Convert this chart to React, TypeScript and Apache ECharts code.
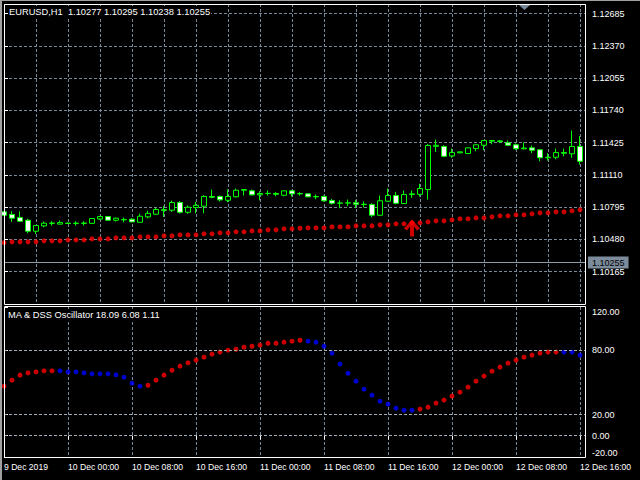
import React, { useEffect, useRef } from 'react';
import * as echarts from 'echarts';

// ---------- data ----------
const headerText = 'EURUSD,H1  1.10277 1.10295 1.10238 1.10255';
const oscTitle = 'MA & DSS Oscillator 18.09 6.08 1.11';

const timeLabels = [
  '9 Dec 2019', '10 Dec 00:00', '10 Dec 08:00', '10 Dec 16:00', '11 Dec 00:00',
  '11 Dec 08:00', '11 Dec 16:00', '12 Dec 00:00', '12 Dec 08:00', '12 Dec 16:00',
];
const timeLabelBars = [0, 8, 16, 24, 32, 40, 48, 56, 64, 72];

const priceTicks = [1.10165, 1.1048, 1.10795, 1.1111, 1.11425, 1.1174, 1.12055, 1.1237, 1.12685];
const oscTicks = [-20, 0, 20, 80, 120];
const oscLevels = [80, 20, 0];
const bidPrice = 1.10255;

const opens = [
  1.1075, 1.10724, 1.10694, 1.10668, 1.10561, 1.10613, 1.1064, 1.1063, 1.1064, 1.10636,
  1.1064, 1.10638, 1.1068, 1.10704, 1.10668, 1.10672, 1.10678, 1.10648, 1.10701, 1.10727,
  1.10771, 1.10766, 1.10841, 1.10746, 1.10792, 1.10805, 1.109, 1.109, 1.10863, 1.10897,
  1.10961, 1.10955, 1.10916, 1.10929, 1.10929, 1.10912, 1.10955, 1.10926, 1.10926, 1.10897,
  1.109, 1.1086, 1.10834, 1.10836, 1.10838, 1.10824, 1.10821, 1.10717, 1.10854, 1.10909,
  1.10831, 1.10919, 1.10921, 1.10968, 1.1139, 1.11388, 1.11296, 1.11327, 1.1132, 1.11368,
  1.11401, 1.1144, 1.11443, 1.11424, 1.11405, 1.11366, 1.11375, 1.11356, 1.11278, 1.11283,
  1.11329, 1.11317, 1.11388,
];
const closes = [
  1.10717, 1.10688, 1.10658, 1.10561, 1.10616, 1.10639, 1.10638, 1.10645, 1.10636, 1.1064,
  1.10638, 1.10685, 1.10704, 1.10668, 1.10688, 1.10676, 1.10652, 1.10707, 1.10735, 1.10773,
  1.10765, 1.10841, 1.10746, 1.10795, 1.10814, 1.109, 1.10893, 1.10867, 1.109, 1.10961,
  1.10968, 1.10916, 1.10929, 1.10931, 1.10922, 1.10955, 1.10926, 1.10929, 1.10897, 1.109,
  1.10858, 1.10834, 1.10836, 1.10838, 1.10824, 1.10821, 1.10717, 1.10858, 1.10909, 1.10834,
  1.10919, 1.10926, 1.10978, 1.11398, 1.114, 1.11293, 1.11329, 1.11336, 1.11375, 1.11405,
  1.11447, 1.11447, 1.11436, 1.11401, 1.11366, 1.11373, 1.11352, 1.11278, 1.11283, 1.11329,
  1.11323, 1.11388, 1.11244,
];
const lows = [
  1.10712, 1.10652, 1.10655, 1.10541, 1.10535, 1.106, 1.10616, 1.10628, 1.10632, 1.10616,
  1.10617, 1.10632, 1.10672, 1.10665, 1.10655, 1.10648, 1.10652, 1.10648, 1.10688, 1.10721,
  1.10701, 1.1075, 1.10733, 1.10731, 1.10736, 1.10736, 1.10883, 1.10851, 1.10844, 1.1089,
  1.10909, 1.10909, 1.10863, 1.10909, 1.10902, 1.10902, 1.109, 1.10909, 1.10894, 1.10873,
  1.10851, 1.10821, 1.10785, 1.10805, 1.10789, 1.10792, 1.10697, 1.10714, 1.10851, 1.10824,
  1.10828, 1.10887, 1.109, 1.1087, 1.11336, 1.11283, 1.11278, 1.1132, 1.11313, 1.11342,
  1.11352, 1.1141, 1.11425, 1.11395, 1.11356, 1.1136, 1.11323, 1.11244, 1.11251, 1.11264,
  1.11293, 1.11278, 1.11212,
];
const highs = [
  1.10758, 1.10756, 1.10756, 1.10682, 1.10618, 1.10655, 1.10658, 1.10665, 1.10645, 1.10658,
  1.10658, 1.10691, 1.1071, 1.10708, 1.10694, 1.10694, 1.10688, 1.10731, 1.1076, 1.10789,
  1.10805, 1.1086, 1.10854, 1.10812, 1.10848, 1.10912, 1.10968, 1.10909, 1.10968, 1.10978,
  1.1097, 1.10968, 1.10951, 1.10958, 1.10942, 1.10961, 1.10965, 1.10942, 1.10929, 1.10919,
  1.10909, 1.10877, 1.10863, 1.1087, 1.10867, 1.10851, 1.10834, 1.10909, 1.10978, 1.10945,
  1.10958, 1.10958, 1.11024, 1.11414, 1.11456, 1.11401, 1.11368, 1.11338, 1.11376, 1.11406,
  1.11448, 1.11448, 1.1145, 1.11447, 1.11417, 1.11427, 1.11398, 1.11362, 1.11323, 1.11368,
  1.11368, 1.11544, 1.11489,
];

const maValues = [
  1.1045, 1.10457, 1.10457, 1.10457, 1.10457, 1.10467, 1.10467, 1.10467, 1.10476, 1.10476,
  1.10476, 1.10486, 1.10486, 1.10486, 1.10496, 1.10496, 1.10496, 1.10506, 1.10506, 1.10506,
  1.10516, 1.10516, 1.10525, 1.10525, 1.10525, 1.10535, 1.10535, 1.10545, 1.10545, 1.10555,
  1.10555, 1.10564, 1.10564, 1.10574, 1.10574, 1.10584, 1.10584, 1.1059, 1.10594, 1.10594,
  1.10594, 1.10603, 1.10603, 1.10603, 1.10613, 1.10613, 1.10613, 1.10623, 1.10623, 1.10633,
  1.10633, 1.10643, 1.10643, 1.10652, 1.10662, 1.10662, 1.10672, 1.10682, 1.10682, 1.10691,
  1.10691, 1.10701, 1.10711, 1.10711, 1.10721, 1.10721, 1.10731, 1.1074, 1.1074, 1.1075,
  1.1075, 1.1076, 1.1077,
];

const arrowBar = 51;
const arrowPrice = 1.10592;

const oscValues = [
  46.1, 51.7, 56.4, 58.5, 59.5, 60.4, 60.4, 60.4, 59.5, 59.5,
  58.5, 57.6, 57.6, 57.6, 56.7, 54.5, 48.9, 46.1, 47.0, 51.7,
  56.4, 61.0, 64.8, 67.9, 70.4, 73.2, 76.0, 77.9, 79.7, 80.6,
  82.5, 83.4, 84.4, 86.2, 86.2, 87.2, 88.1, 89.0, 88.1, 87.2,
  83.4, 76.9, 66.7, 58.2, 50.8, 43.3, 37.7, 32.1, 29.3, 25.6,
  23.7, 23.7, 24.7, 26.5, 30.3, 33.1, 36.8, 40.5, 45.2, 50.8,
  55.5, 60.1, 63.9, 67.6, 70.4, 73.2, 75.1, 76.9, 77.9, 77.9,
  77.9, 77.9, 75.1,
];
// R = red (rising), B = blue (falling)
const oscColors = (
  'RRRRRRR' + 'BBBBBBBBBBB' + 'RRRRRRRRRRRRRRRRRRRR' + 'BBBBBBBBBBBBBB' + 'RRRRRRRRRRRRRRRRRR' + 'BBB'
).split('');

// ---------- styles ----------
const FONT = "'Liberation Sans', Arial, sans-serif";
const GRID_COLOR = '#778899';
const LEVEL_COLOR = '#a4afba';
const GREEN = '#00ff00';
const RED = '#ff0000';
const BLUE = '#0000ff';
const X_MAX = 72.625;
const ARROW_PATH = 'path://M8,0 L16,9 L13,11 L10,7 L10,17 L6,17 L6,7 L3,11 L0,9 Z';

export default function App() {
  const ref = useRef<HTMLDivElement>(null);

  useEffect(() => {
    if (!ref.current) return;
    const chart = echarts.init(ref.current, null, { renderer: 'svg' });

    const candleData = opens.map((o, i) => [i, o, closes[i], lows[i], highs[i]]);
    const maData = maValues.map((v, i) => [i, v]);
    const oscRed = oscValues.map((v, i) => (oscColors[i] === 'R' ? [i, v] : [i, null]));
    const oscBlue = oscValues.map((v, i) => (oscColors[i] === 'B' ? [i, v] : [i, null]));

    const gridSplit = { show: true, lineStyle: { color: GRID_COLOR, type: [3, 2], width: 1 } };
    const titleStyle = { color: '#fff', fontSize: 9.3, fontWeight: 'normal', fontFamily: FONT };

    const option: any = {
      animation: false,
      backgroundColor: '#000',
      textStyle: { fontFamily: FONT },
      title: [
        {
          text: headerText, left: 8, top: 6, padding: [1, 1],
          backgroundColor: '#000', z: 20, textStyle: titleStyle,
        },
        {
          text: oscTitle, left: 7, top: 309, padding: [1, 1],
          backgroundColor: '#000', z: 20, textStyle: titleStyle,
        },
      ],
      grid: [
        { left: 4, top: 4, width: 581, height: 300, show: false },
        { left: 4, top: 307, width: 581, height: 150, show: false },
      ],
      xAxis: [
        {
          type: 'value', gridIndex: 0, min: 0, max: X_MAX, interval: 4,
          axisLine: { show: false }, axisTick: { show: false }, axisLabel: { show: false },
          splitLine: gridSplit,
        },
        {
          type: 'value', gridIndex: 1, min: 0, max: X_MAX, interval: 4,
          axisLine: { show: false },
          axisTick: { show: true, customValues: timeLabelBars, length: 4, lineStyle: { color: '#fff' } },
          axisLabel: {
            show: true, customValues: timeLabelBars,
            formatter: (v: number) => {
              const idx = timeLabelBars.indexOf(Math.round(v));
              return idx >= 0 ? timeLabels[idx] : '';
            },
            align: 'left', verticalAlign: 'top', margin: 5,
            color: '#fff', fontSize: 8.6, fontFamily: FONT,
          },
          splitLine: gridSplit,
        },
      ],
      yAxis: [
        {
          type: 'value', gridIndex: 0, position: 'right', min: 1.0985, max: 1.1278, interval: 0.00315,
          axisLine: { show: false },
          axisTick: { show: true, customValues: priceTicks, length: 4, lineStyle: { color: '#fff' } },
          axisLabel: {
            show: true, customValues: priceTicks,
            formatter: (v: number) => v.toFixed(5),
            color: '#fff', fontSize: 9, fontFamily: FONT, margin: 7, padding: [3, 0, 0, 0],
          },
          splitLine: gridSplit,
        },
        {
          type: 'value', gridIndex: 1, position: 'right', min: -20, max: 120, interval: 20,
          axisLine: { show: false },
          axisTick: { show: true, customValues: oscTicks, length: 4, lineStyle: { color: '#fff' } },
          axisLabel: {
            show: true, customValues: oscTicks,
            formatter: (v: number) =>
              v === 120 ? '{t|120.00}' : v === -20 ? '{b|-20.00}' : v.toFixed(2),
            rich: {
              t: { padding: [8, 0, 0, 0], color: '#fff', fontSize: 9, fontFamily: FONT },
              b: { padding: [0, 0, 10, 0], color: '#fff', fontSize: 9, fontFamily: FONT },
            },
            color: '#fff', fontSize: 9, fontFamily: FONT, margin: 7, padding: [1, 0, 0, 0],
          },
          splitLine: { show: false },
        },
      ],
      series: [
        {
          type: 'candlestick',
          xAxisIndex: 0, yAxisIndex: 0,
          data: candleData,
          encode: { x: 0, y: [1, 2, 3, 4] },
          barWidth: 5,
          itemStyle: { color: '#000', color0: '#fff', borderColor: GREEN, borderColor0: GREEN, borderWidth: 1 },
        },
        {
          type: 'scatter', xAxisIndex: 0, yAxisIndex: 0,
          data: maData, symbolSize: 5, itemStyle: { color: RED },
          markLine: {
            silent: true,
            symbol: 'none',
            precision: 5,
            data: [{ yAxis: bidPrice }],
            lineStyle: { color: '#8c99a6', type: 'solid', width: 1 },
            label: {
              show: true, position: 'end', distance: 3,
              formatter: bidPrice.toFixed(5),
              backgroundColor: '#7c8c9c', color: '#000', padding: [2, 4, 1, 4],
              fontSize: 9, fontFamily: FONT,
            },
          },
        },
        {
          type: 'scatter', xAxisIndex: 0, yAxisIndex: 0, z: 5,
          data: [[arrowBar, arrowPrice]], symbol: ARROW_PATH, symbolSize: [16, 17],
          itemStyle: { color: RED },
        },
        {
          type: 'scatter', xAxisIndex: 1, yAxisIndex: 1,
          data: oscRed, symbolSize: 5, itemStyle: { color: RED },
          markLine: {
            silent: true, symbol: 'none',
            data: oscLevels.map((v) => ({ yAxis: v })),
            lineStyle: { color: LEVEL_COLOR, type: [3, 2], width: 1 },
            label: { show: false },
          },
        },
        {
          type: 'scatter', xAxisIndex: 1, yAxisIndex: 1,
          data: oscBlue, symbolSize: 5, itemStyle: { color: BLUE },
        },
      ],
      graphic: [
        { type: 'rect', z: 100, shape: { x: 0, y: 0, width: 2, height: 480 }, style: { fill: '#a0a0a0' } },
        { type: 'rect', z: 100, shape: { x: 0, y: 0, width: 640, height: 1 }, style: { fill: '#a0a0a0' } },
        {
          type: 'rect', z: 100, shape: { x: 4.5, y: 4.5, width: 581, height: 300 },
          style: { fill: 'none', stroke: '#fff', lineWidth: 1 },
        },
        {
          type: 'rect', z: 100, shape: { x: 4.5, y: 306.5, width: 581, height: 151 },
          style: { fill: 'none', stroke: '#fff', lineWidth: 1 },
        },
        {
          type: 'polygon', z: 100, shape: { points: [[519, 5], [530, 5], [524.5, 10]] },
          style: { fill: GRID_COLOR },
        },
      ],
    };

    chart.setOption(option);
    return () => chart.dispose();
  }, []);

  return (
    <div
      ref={ref}
      style={{ position: 'fixed', left: 0, top: 0, width: 640, height: 480, background: '#000' }}
    />
  );
}
